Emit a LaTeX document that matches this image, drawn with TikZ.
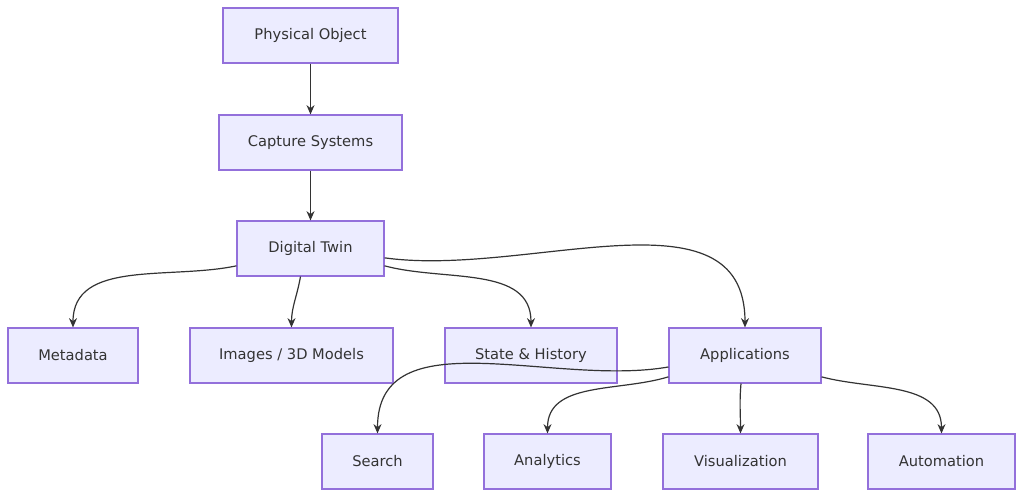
\documentclass[tikz,border=0pt]{standalone}
\usepackage{fontspec}
\setmainfont{DejaVu Sans}
\usetikzlibrary{arrows.meta}
\definecolor{nfill}{HTML}{ECECFF}
\definecolor{nline}{HTML}{9370DB}
\definecolor{eline}{HTML}{333333}
\begin{document}
\begin{tikzpicture}[x=0.75pt,y=-0.75pt,
  box/.style={draw=nline,fill=nfill,line width=0.8pt,inner sep=0pt,minimum height=41.25pt,font=\fontsize{11}{13}\selectfont,text=eline},
  edge/.style={draw=eline,line width=0.9pt,-{Stealth[length=7pt,width=6pt]}}]
\useasboundingbox (0,0) rectangle (1024,498);
\node[box,minimum width=131.25pt] (po) at (310.5,35.5) {Physical Object};
\node[box,minimum width=137.25pt] (cs) at (310.5,142.5) {Capture Systems};
\node[box,minimum width=110.25pt] (dt) at (310.5,248.5) {Digital Twin};
\node[box,minimum width=97.5pt] (md) at (73,355.5) {Metadata};
\node[box,minimum width=152.25pt] (im) at (291.5,355.5) {Images / 3D Models};
\node[box,minimum width=129pt] (sh) at (531,355.5) {State \& History};
\node[box,minimum width=114pt] (ap) at (745,355.5) {Applications};
\node[box,minimum width=83.25pt] (se) at (377.5,461.5) {Search};
\node[box,minimum width=95.25pt] (an) at (547.5,461.5) {Analytics};
\node[box,minimum width=116.25pt] (vi) at (740.5,461.5) {Visualization};
\node[box,minimum width=110.25pt] (au) at (941.5,461.5) {Automation};
\draw[edge] (po) -- (cs);
\draw[edge] (cs) -- (dt);
\draw[edge] ([yshift=-13pt]dt.west) to[out=192,in=90] (md.north);
\draw[edge] ([xshift=-7.5pt]dt.south) to[out=-100,in=90] (im.north);
\draw[edge] ([yshift=-13pt]dt.east) to[out=-15,in=90] (sh.north);
\draw[edge] ([yshift=-7pt]dt.east) to[out=-8,in=90] (ap.north);
\draw[edge] ([yshift=-8.6pt]ap.west) to[out=190,in=90] (se.north);
\draw[edge] ([yshift=-16pt]ap.west) to[out=197,in=90] (an.north);
\draw[edge] ([xshift=-3pt]ap.south) to[out=-95,in=90] (vi.north);
\draw[edge] ([yshift=-16pt]ap.east) to[out=-15,in=90] (au.north);
\end{tikzpicture}
\end{document}
